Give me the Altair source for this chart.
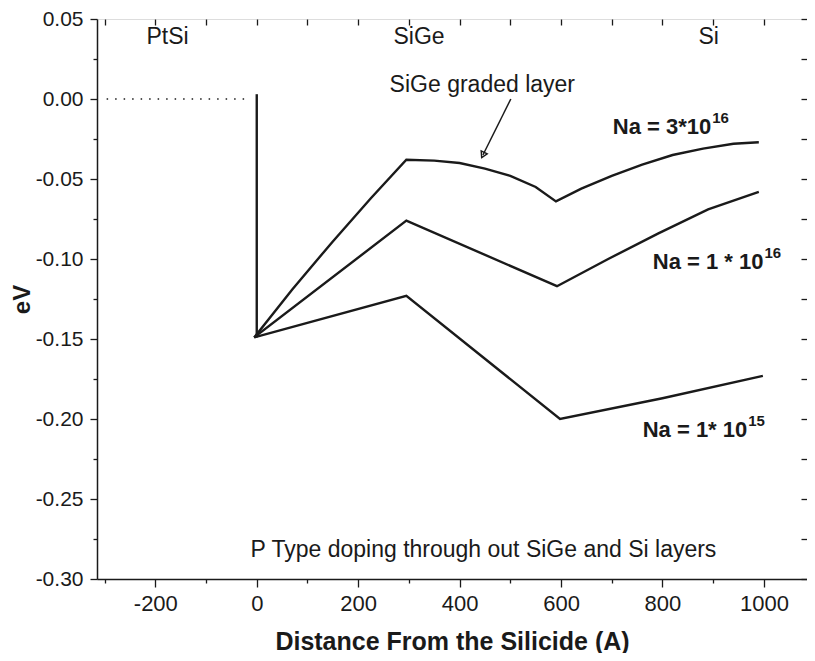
import altair as alt
import pandas as pd

# ---- data ----
na3_x = [-5, 70, 150, 225, 295, 350, 400, 450, 500, 550, 590, 640, 700, 760, 820, 880, 940, 990]
na3_y = [-0.149, -0.119, -0.089, -0.062, -0.038, -0.0385, -0.040, -0.0435, -0.048, -0.055, -0.064,
         -0.056, -0.048, -0.041, -0.035, -0.031, -0.028, -0.027]
na1e16_x = [-5, 295, 592, 693, 792, 890, 990]
na1e16_y = [-0.149, -0.076, -0.117, -0.100, -0.084, -0.069, -0.058]
na1e15_x = [-5, 295, 598, 800, 998]
na1e15_y = [-0.149, -0.123, -0.200, -0.187, -0.173]

barrier_x = [0, 0]
barrier_y = [0.003, -0.149]
fermi_x = [-296, -16]
fermi_y = [0.0, 0.0]

region_labels = ["PtSi", "SiGe", "Si"]
region_x = [-176, 320, 891]
region_y = [0.0344, 0.0344, 0.0344]

na_base = ["Na = 3*10", "Na = 1 * 10", "Na = 1* 10"]
na_exp = ["16", "16", "15"]
na_x = [702, 781, 761]
na_y = [-0.0219, -0.106, -0.211]

note_text = ["SiGe graded layer"]
note_x = [262]
note_y = [0.0044]

arrow_x = [501, 446]
arrow_y = [0.0, -0.035]

footer_text = ["P Type doping through out SiGe and Si layers"]
footer_x = [447]
footer_y = [-0.286]

x_ticks = list(range(-300, 1100, 100))
y_ticks = [round(0.05 - 0.025 * i, 3) for i in range(15)]

XDOM = [-315, 1085]
YDOM = [-0.30, 0.05]
FONT = "Liberation Sans"
INK = "#1a1a1a"
MINUS = "\u2212"

# ---- tables ----
curves = pd.concat([
    pd.DataFrame({"x": na3_x, "y": na3_y, "s": "na3", "o": range(len(na3_x))}),
    pd.DataFrame({"x": na1e16_x, "y": na1e16_y, "s": "na1e16", "o": range(len(na1e16_x))}),
    pd.DataFrame({"x": na1e15_x, "y": na1e15_y, "s": "na1e15", "o": range(len(na1e15_x))}),
    pd.DataFrame({"x": barrier_x, "y": barrier_y, "s": "barrier", "o": range(2)}),
])
fermi = pd.DataFrame({"x": fermi_x, "y": fermi_y})
regions = pd.DataFrame({"x": region_x, "y": region_y, "t": region_labels})
note = pd.DataFrame({"x": note_x, "y": note_y, "t": note_text})
arrow = pd.DataFrame({"x": arrow_x, "y": arrow_y, "o": [0, 1]})
tip = pd.DataFrame({"x": arrow_x[1:], "y": arrow_y[1:]})
footer = pd.DataFrame({"x": footer_x, "y": footer_y, "t": footer_text})

xs = alt.Scale(domain=XDOM, nice=False, zero=False)
ys = alt.Scale(domain=YDOM, nice=False, zero=False)

MAJOR_Y = "abs(datum.value*20 - round(datum.value*20)) < 0.001"

bottom_axis = alt.Axis(
    values=x_ticks,
    labelExpr="datum.value % 200 === 0 ? '' + datum.value : ''",
    tickSize={"condition": {"test": "datum.value % 200 === 0", "value": 8}, "value": 4},
    labelFont=FONT, labelFontSize=22, labelColor=INK, labelPadding=6, labelFlush=False,
    labelOverlap=False,
    title="Distance From the Silicide (A)", titleFont=FONT, titleFontSize=25,
    titleFontWeight="bold", titleColor=INK, titlePadding=15,
    domainColor=INK, domainWidth=1.5, tickColor=INK, tickWidth=1.3, grid=False,
)
left_axis = alt.Axis(
    values=y_ticks,
    labelExpr=f"{MAJOR_Y} ? replace(format(datum.value, '.2f'), '{MINUS}', '-') : ''",
    tickSize={"condition": {"test": MAJOR_Y, "value": 7}, "value": 4},
    labelFont=FONT, labelFontSize=21, labelColor=INK, labelPadding=7, labelFlush=False,
    labelOverlap=False,
    title="eV", titleFont=FONT, titleFontSize=24, titleFontWeight="bold", titleColor=INK,
    titlePadding=1,
    domainColor=INK, domainWidth=1.5, tickColor=INK, tickWidth=1.3, grid=False,
)
top_axis = alt.Axis(orient="top", values=x_ticks, labels=False, domain=False, tickSize=6,
                    offset=-6, title=None, tickColor=INK, tickWidth=1.3, grid=False)
right_axis = alt.Axis(orient="right", values=y_ticks, labels=False, domain=False, tickSize=6,
                      offset=-6, title=None, tickColor=INK, tickWidth=1.3, grid=False)

curve_layer = alt.Chart(curves).mark_line(color=INK, strokeWidth=2.4, strokeJoin="miter").encode(
    x=alt.X("x:Q", scale=xs, axis=bottom_axis),
    y=alt.Y("y:Q", scale=ys, axis=left_axis),
    detail="s:N",
    order="o:Q",
)
fermi_layer = alt.Chart(fermi).mark_line(color=INK, strokeWidth=1.6, strokeDash=[1.5, 7]).encode(
    x=alt.X("x:Q", scale=xs, axis=top_axis),
    y=alt.Y("y:Q", scale=ys, axis=right_axis),
)

def text_layer(df, size, weight="normal", align="center", dx=0, dy=0):
    return alt.Chart(df).mark_text(
        font=FONT, fontSize=size, fontWeight=weight, color=INK, align=align,
        baseline="alphabetic", dx=dx, dy=dy,
    ).encode(
        x=alt.X("x:Q", scale=xs, axis=None),
        y=alt.Y("y:Q", scale=ys, axis=None),
        text="t:N",
    )

# approximate Arial-bold advance widths (em) to place the exponent right after the base text
BOLD_W = {"N": .722, "a": .556, " ": .278, "=": .584, "*": .389, "1": .556, "0": .556,
          "3": .556}
NA_SIZE = 22
na_layers = []
for bx, by, bt, et in zip(na_x, na_y, na_base, na_exp):
    w = sum(BOLD_W.get(c, .556) for c in bt) * NA_SIZE
    df_b = pd.DataFrame({"x": [bx], "y": [by], "t": [bt]})
    df_e = pd.DataFrame({"x": [bx], "y": [by], "t": [et]})
    na_layers.append(text_layer(df_b, NA_SIZE, "bold", "left"))
    na_layers.append(text_layer(df_e, 15, "bold", "left", dx=w + 1, dy=-11))

region_layer = text_layer(regions, 23)
note_layer = text_layer(note, 23, "normal", "left")
footer_layer = text_layer(footer, 23)

arrow_layer = alt.Chart(arrow).mark_line(color=INK, strokeWidth=1.5).encode(
    x=alt.X("x:Q", scale=xs, axis=None),
    y=alt.Y("y:Q", scale=ys, axis=None),
    order="o:Q",
)
tip_layer = alt.Chart(tip).mark_point(
    shape="triangle-up", angle=206, size=45, filled=False, color=INK, strokeWidth=1.4, opacity=1
).encode(
    x=alt.X("x:Q", scale=xs, axis=None),
    y=alt.Y("y:Q", scale=ys, axis=None),
)

chart = alt.layer(
    curve_layer, fermi_layer, region_layer, *na_layers, note_layer, footer_layer,
    arrow_layer, tip_layer
).resolve_axis(x="independent", y="independent").properties(
    width=710, height=560,
    autosize=alt.AutoSizeParams(type="none"),
    padding={"left": 89, "top": 11, "right": 0, "bottom": 74},
).configure_view(stroke=INK, strokeWidth=1.5).configure(background="white")

chart.save("out.html", embed_options={"renderer": "svg", "actions": False})
